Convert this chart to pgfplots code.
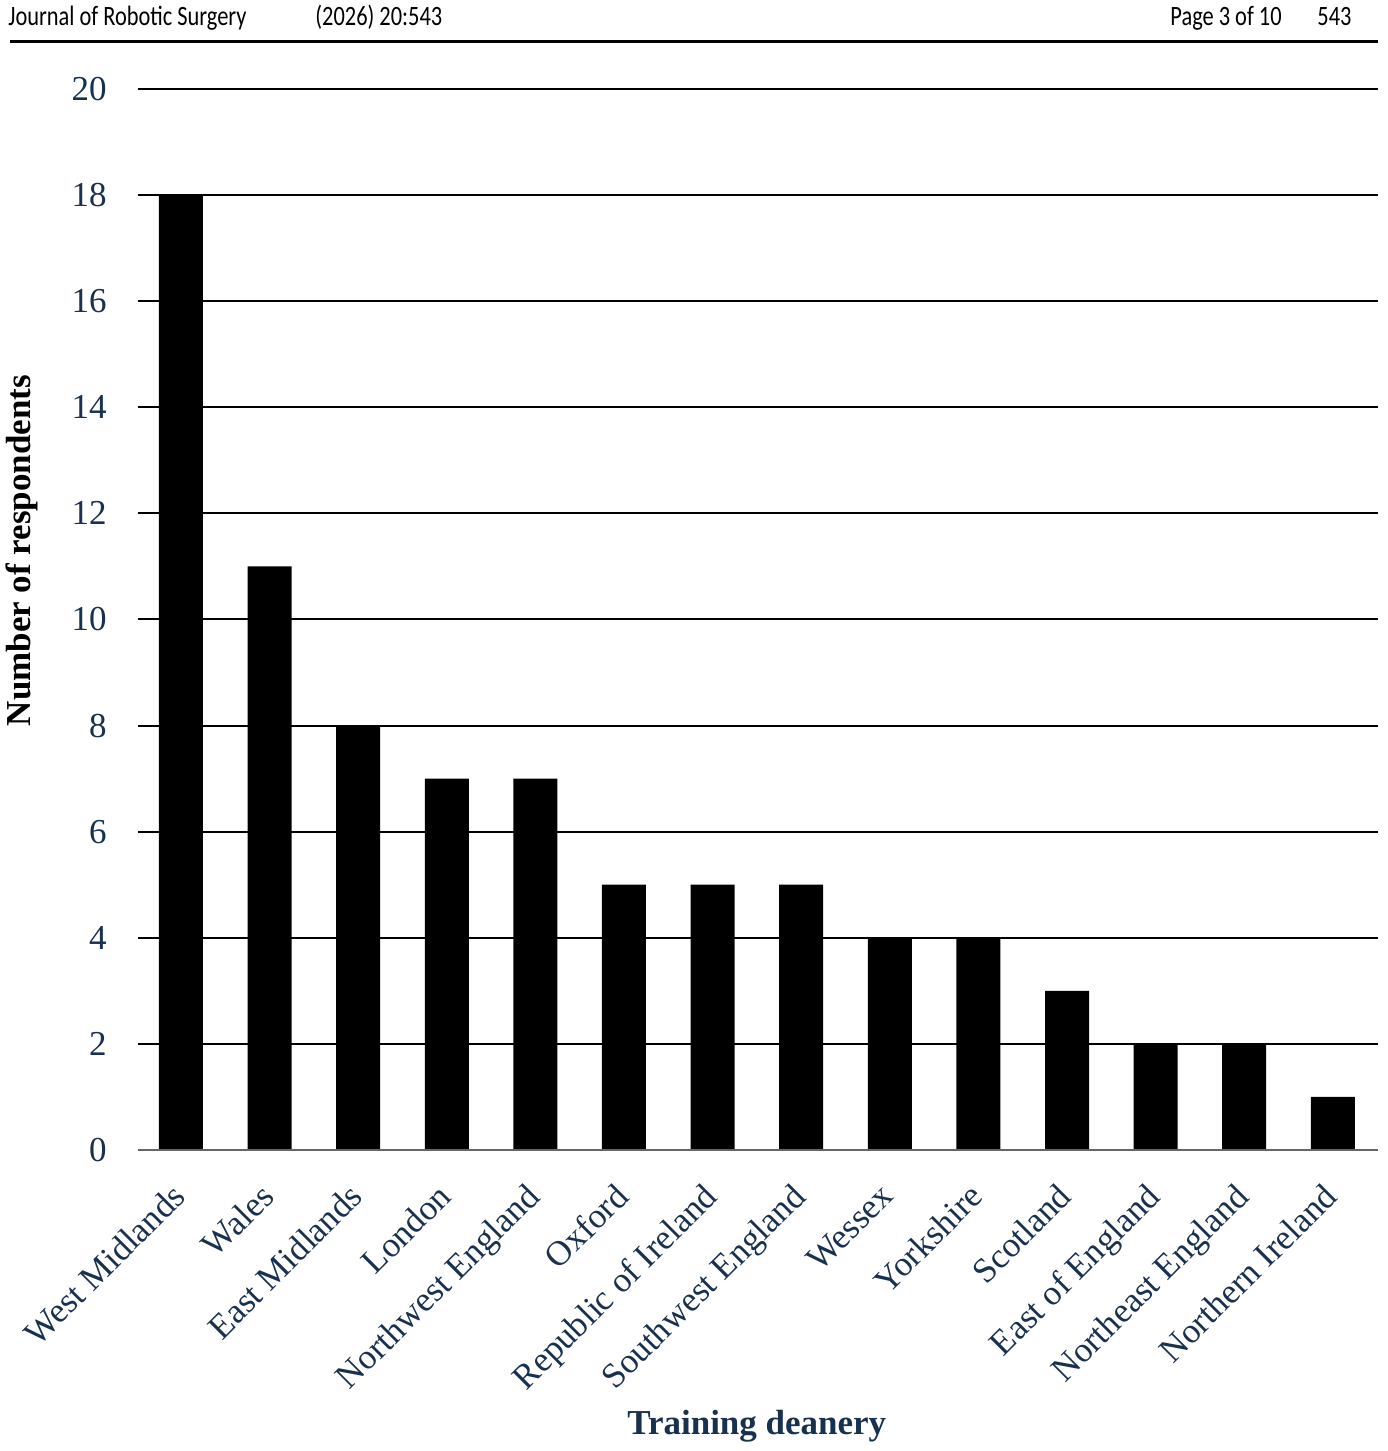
\documentclass[border=0pt]{standalone}
\usepackage{pgfplots}
\pgfplotsset{compat=1.18}
\usepackage{fontspec}
\setmainfont{Liberation Serif}
\newfontfamily\hdrfont[FakeStretch=0.8]{Carlito}
\definecolor{navy}{HTML}{18314F}

\begin{document}
\begin{tikzpicture}
\useasboundingbox (-69pt,-150.5pt) rectangle (624.5pt,575pt);
% running head
\node[anchor=base west, inner sep=0pt] at (-65pt,562pt) {\hdrfont\fontsize{14}{16}\selectfont Journal of Robotic Surgery};
\node[anchor=base west, inner sep=0pt] at (88.5pt,562pt) {\hdrfont\fontsize{14}{16}\selectfont (2026) 20:543};
\node[anchor=base west, inner sep=0pt] at (516pt,562pt) {\hdrfont\fontsize{14}{16}\selectfont Page 3 of 10};
\node[anchor=base west, inner sep=0pt] at (589.5pt,562pt) {\hdrfont\fontsize{14}{16}\selectfont 543};
\draw[line width=1.5pt] (-64pt,554pt) -- (620pt,554pt);

\begin{axis}[
  at={(0,0)}, anchor=south west,
  scale only axis,
  width=620pt, height=530.5pt,
  ybar, bar width=22pt,
  xmin=-0.485, xmax=13.51,
  ymin=0, ymax=20,
  ytick={0,2,...,20},
  xtick=data,
  xticklabels={West Midlands, Wales, East Midlands, London, Northwest England, Oxford, Republic of Ireland, Southwest England, Wessex, Yorkshire, Scotland, East of England, Northeast England, Northern Ireland},
  /pgf/number format/assume math mode=true,
  axis line style={draw=none},
  major tick length=0pt,
  ymajorgrids,
  major grid style={black, line width=1pt},
  tick label style={font=\fontsize{17.5}{20}\selectfont, text=navy},
  yticklabel style={inner sep=0pt, xshift=-15.5pt},
  xticklabel style={inner sep=0pt, xshift=-5.5pt, yshift=-15.5pt, rotate=45, anchor=north east},
  ylabel={\bfseries Number of respondents},
  ylabel style={at={(axis description cs:-0.0935,0.565)}, anchor=center, rotate=0, font=\fontsize{17.5}{20}\selectfont},
  xlabel={\bfseries Training deanery},
  xlabel style={at={(axis description cs:0.499,-0.2677)}, anchor=base, font=\fontsize{17.5}{20}\selectfont, text=navy},
]
\addplot[fill=black, draw=none] coordinates {
  (0,18) (1,11) (2,8) (3,7) (4,7) (5,5) (6,5) (7,5) (8,4) (9,4) (10,3) (11,2) (12,2) (13,1)
};
\draw[gray!80!black, line width=1.2pt] (axis cs:-0.485,0) -- (axis cs:13.51,0);
\end{axis}
\end{tikzpicture}
\end{document}
